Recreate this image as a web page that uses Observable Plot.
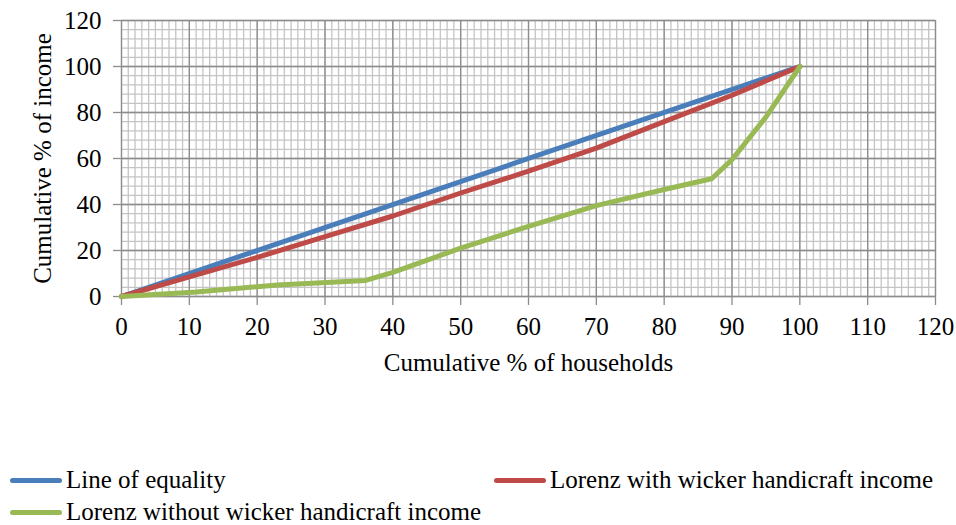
<!DOCTYPE html>
<html><head><meta charset="utf-8">
<script src="https://cdn.jsdelivr.net/npm/d3@7"></script>
<script src="https://cdn.jsdelivr.net/npm/@observablehq/plot@0.6"></script>
<style>
body{margin:0;background:#fff;font-family:"Liberation Serif","Times New Roman",serif;}
#wrap{position:relative;width:956px;height:525px;}
.leg{position:absolute;display:flex;align-items:center;font-size:25px;line-height:22px;color:#000;white-space:nowrap;}
.sw{width:52px;height:5px;border-radius:3px;margin-right:4px;}
</style>
</head><body><div id="wrap"><div id="chart"></div></div>
<script>
const seriesNames = ["Line of equality", "Lorenz with wicker handicraft income", "Lorenz without wicker handicraft income"];
const seriesColors = ["#4a7ebb", "#be4b48", "#98b954"];

const equalityX = [0, 100];
const equalityY = [0, 100];

const withX = [0, 10, 20, 30, 40, 50, 60, 70, 80, 90, 100];
const withY = [0, 8.5, 17, 26, 35, 45, 54.5, 64.5, 76, 87.5, 100];

const withoutX = [0, 11, 23, 36, 40, 50, 60, 70, 80, 87, 90, 95, 100];
const withoutY = [0, 2, 5, 7, 10.5, 21, 30.5, 39.5, 46.5, 51.2, 59.5, 78, 100];

const xTicks = [0, 10, 20, 30, 40, 50, 60, 70, 80, 90, 100, 110, 120];
const yTicks = [0, 20, 40, 60, 80, 100, 120];

const xLabel = "Cumulative % of households";
const yLabel = "Cumulative % of income";

const toRows = (xs, ys, s) => xs.map((x, i) => ({x, y: ys[i], s}));
const rows = [
  ...toRows(equalityX, equalityY, seriesNames[0]),
  ...toRows(withX, withY, seriesNames[1]),
  ...toRows(withoutX, withoutY, seriesNames[2])
];

const fs = 25;
const plot = Plot.plot({
  width: 956,
  height: 400,
  marginTop: 20,
  marginBottom: 104,
  marginLeft: 121,
  marginRight: 21,
  style: {fontFamily: '"Liberation Serif","Times New Roman",serif', fontSize: fs + "px", background: "#fff"},
  x: {domain: [0, 120]},
  y: {domain: [0, 120]},
  color: {domain: seriesNames, range: seriesColors},
  marks: [
    Plot.gridX({interval: 1, stroke: "#c4c4c4", strokeOpacity: 1, strokeWidth: 1.3}),
    Plot.gridY({interval: 4, stroke: "#c4c4c4", strokeOpacity: 1, strokeWidth: 1.3}),
    Plot.gridX({ticks: xTicks, stroke: "#8c8c8c", strokeOpacity: 1, strokeWidth: 1.3}),
    Plot.gridY({ticks: yTicks, stroke: "#8c8c8c", strokeOpacity: 1, strokeWidth: 1.3}),
    Plot.axisX({ticks: xTicks, tickSize: 9, tickPadding: 12, stroke: "#8c8c8c", strokeWidth: 1.3, fill: "#000", fontSize: fs, label: null}),
    Plot.axisY({ticks: yTicks, tickSize: 8, tickPadding: 12, stroke: "#8c8c8c", strokeWidth: 1.3, fill: "#000", fontSize: fs, label: null}),
    Plot.line(rows, {x: "x", y: "y", z: "s", stroke: "s", strokeWidth: 5, strokeLinejoin: "round", strokeLinecap: "round"}),
    Plot.text([xLabel], {frameAnchor: "bottom", dy: 74, fontSize: fs, fill: "#000"}),
    Plot.text([yLabel], {frameAnchor: "left", textAnchor: "middle", dx: -79, rotate: -90, fontSize: fs, fill: "#000"})
  ]
});
document.getElementById("chart").appendChild(plot);

const legendPos = [[10, 480], [494, 480], [10, 512]];
const wrap = document.getElementById("wrap");
seriesNames.forEach((name, i) => {
  const d = document.createElement("div");
  d.className = "leg";
  d.style.left = legendPos[i][0] + "px";
  d.style.top = (legendPos[i][1] - 11) + "px";
  d.style.height = "22px";
  const sw = document.createElement("div");
  sw.className = "sw";
  sw.style.background = seriesColors[i];
  const t = document.createElement("span");
  t.textContent = name;
  d.appendChild(sw); d.appendChild(t);
  wrap.appendChild(d);
});
</script>
</body></html>
